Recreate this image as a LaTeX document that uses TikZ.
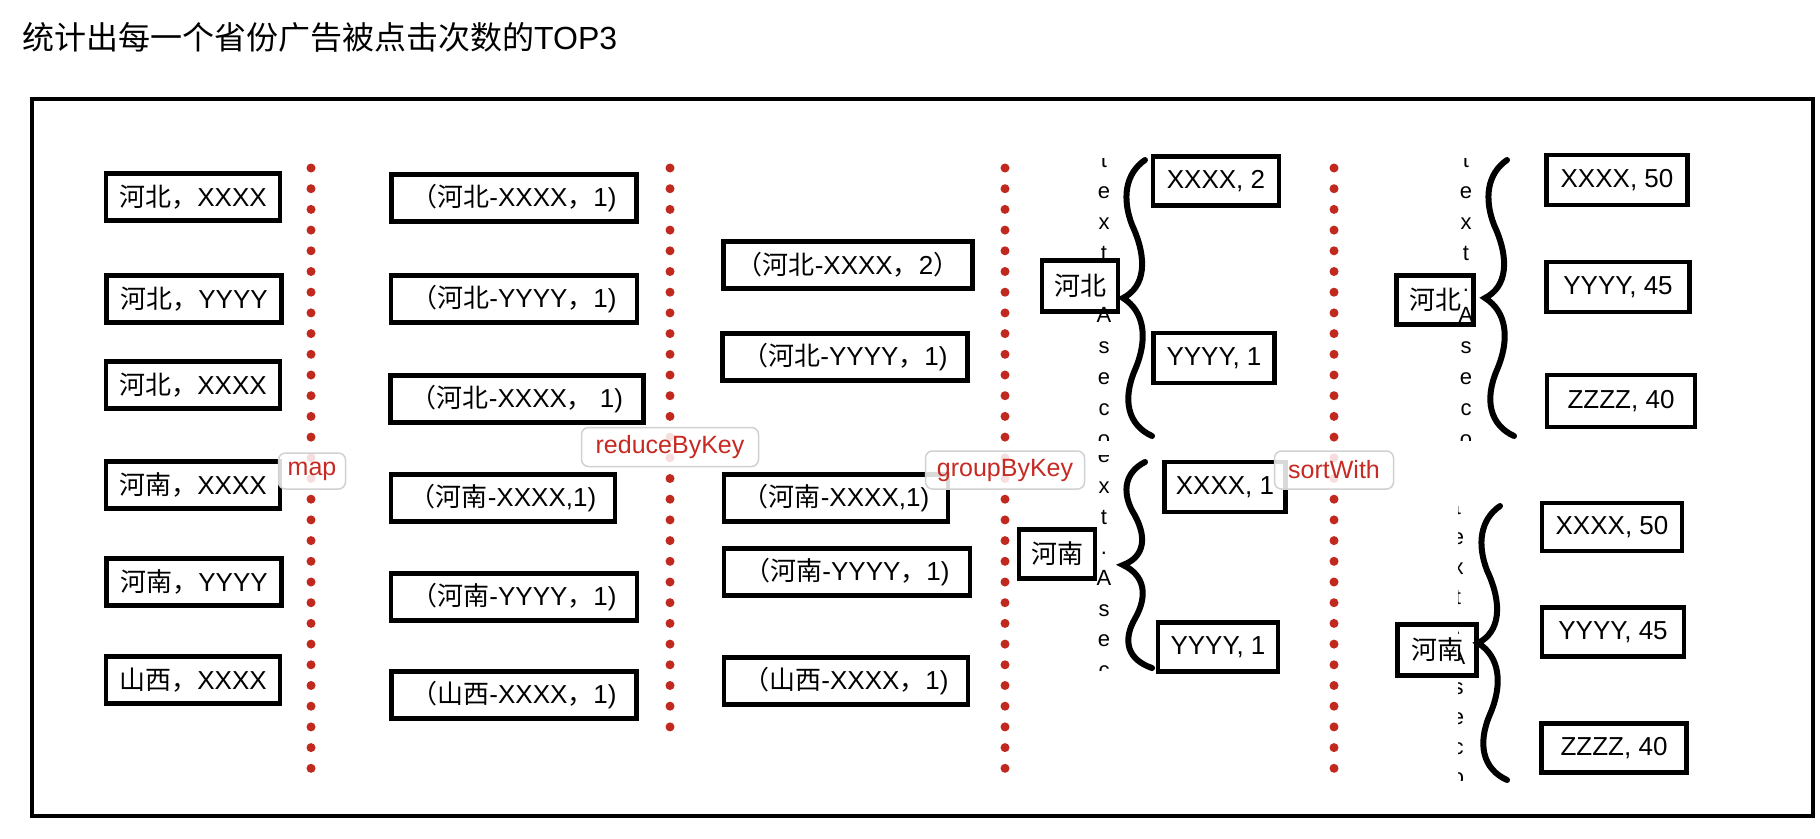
\documentclass[tikz,border=0pt]{standalone}
\usepackage{fontspec}
\setmainfont{Liberation Sans}
\newfontfamily\cjk{Noto Sans CJK SC}
\definecolor{dotred}{HTML}{C1281E}
\definecolor{lblred}{HTML}{C62A22}
\newcommand\sbrace[3]{%
 \draw[brc] ({#1+22},{#2-#3}) .. controls ({#1+2},{#2-0.9*#3}) and ({#1-1},{#2-0.72*#3}) .. ({#1+9},{#2-0.53*#3})
   .. controls ({#1+25},{#2-0.28*#3}) and ({#1+22},{#2-0.08*#3}) .. (#1,#2)
   .. controls ({#1+22},{#2+0.1*#3}) and ({#1+25},{#2+0.3*#3}) .. ({#1+12},{#2+0.52*#3})
   .. controls ({#1-1},{#2+0.74*#3}) and ({#1+5},{#2+0.92*#3}) .. ({#1+29},{#2+#3});}
\begin{document}
\begin{tikzpicture}[x=1pt,y=-1pt,
  box/.style={draw, line width=4.5pt, fill=white, minimum height=47pt, inner sep=0pt, font=\fontsize{26}{30}\selectfont},
  lbl/.style={draw=black!18, line width=1.5pt, rounded corners=7pt, fill=white, fill opacity=0.85, text opacity=1, text=lblred, font=\fontsize{25}{28}\selectfont, inner sep=0pt},
  dotline/.style={draw=dotred, line width=9pt, line cap=round, dash pattern=on 0pt off 20.7pt},
  brc/.style={line width=6pt, line cap=round},
  ltr/.style={font=\fontsize{22}{22}\selectfont, anchor=base, inner sep=0pt}]
\useasboundingbox (0,0) rectangle (1820,838);
\fill[white] (0,0) rectangle (1820,838);
% title
\node[anchor=west, inner sep=0pt, font=\fontsize{32}{35}\selectfont] (title) at (22,37) {{\cjk 统计出每一个省份广告被点击次数的}TOP3};
% frame
\draw[line width=4pt] (32,99) rectangle (1813,816);
% dotted separators
\coordinate (d1t) at (311,168); \coordinate (d1b) at (311,783);
\coordinate (d2t) at (670,168); \coordinate (d2b) at (670,731);
\coordinate (d3t) at (1005,168); \coordinate (d3b) at (1005,783);
\coordinate (d4t) at (1334,168); \coordinate (d4b) at (1334,783);
\draw[dotline] (d1t) -- (d1b);
\draw[dotline] (d2t) -- (d2b);
\draw[dotline] (d3t) -- (d3b);
\draw[dotline] (d4t) -- (d4b);
% column 1
\node[box, minimum width=174pt] (a1) at (193,197) {{\cjk 河北，}XXXX};
\node[box, minimum width=175pt] (a2) at (194,299) {{\cjk 河北，}YYYY};
\node[box, minimum width=174pt] (a3) at (193,385) {{\cjk 河北，}XXXX};
\node[box, minimum width=174pt] (a4) at (193,485) {{\cjk 河南，}XXXX};
\node[box, minimum width=175pt] (a5) at (194,582) {{\cjk 河南，}YYYY};
\node[box, minimum width=174pt] (a6) at (193,680) {{\cjk 山西，}XXXX};
% column 2
\node[box, minimum width=245pt] (b1) at (514,198) {{\cjk （河北}-XXXX{\cjk ，}1)};
\node[box, minimum width=246pt] (b2) at (514,299) {{\cjk （河北}-YYYY{\cjk ，}1)};
\node[box, minimum width=253pt] (b3) at (517,399) {{\cjk （河北}-XXXX{\cjk ，}\hspace{7pt}1)};
\node[box, minimum width=224pt] (b4) at (503,498) {{\cjk （河南}-XXXX,1)};
\node[box, minimum width=246pt] (b5) at (514,597) {{\cjk （河南}-YYYY{\cjk ，}1)};
\node[box, minimum width=245pt] (b6) at (514,695) {{\cjk （山西}-XXXX{\cjk ，}1)};
% column 3
\node[box, minimum width=249pt] (c1) at (848,265) {{\cjk （河北}-XXXX{\cjk ，}2{\cjk ）}};
\node[box, minimum width=245pt] (c2) at (845,357) {{\cjk （河北}-YYYY{\cjk ，}1)};
\node[box, minimum width=224pt] (c3) at (836,498) {{\cjk （河南}-XXXX,1)};
\node[box, minimum width=246pt] (c4) at (847,572) {{\cjk （河南}-YYYY{\cjk ，}1)};
\node[box, minimum width=244pt] (c5) at (846,681) {{\cjk （山西}-XXXX{\cjk ，}1)};
% column 4
\node[box, minimum width=76pt, minimum height=51pt] (k1) at (1080,286) {\cjk 河北};
\node[box, minimum width=126pt, minimum height=49pt] (r1) at (1216,181) {XXXX, 2};
\node[box, minimum width=121pt, minimum height=50pt] (r2) at (1214,358) {YYYY, 1};
\node[box, minimum width=76pt, minimum height=49pt] (k2) at (1057,554) {\cjk 河南};
\node[box, minimum width=121pt, minimum height=50pt] (r3) at (1225,487) {XXXX, 1};
\node[box, minimum width=120pt, minimum height=49pt] (r4) at (1218,647) {YYYY, 1};
% column 5
\node[box, minimum width=77pt, minimum height=49pt] (k3) at (1435,300) {\cjk 河北};
\node[box, minimum width=141pt, minimum height=50pt] (s1) at (1617,180) {XXXX, 50};
\node[box, minimum width=143pt, minimum height=50pt] (s2) at (1618,287) {YYYY, 45};
\node[box, minimum width=148pt, minimum height=52pt] (s3) at (1621,401) {ZZZZ, 40};
\node[box, minimum width=79pt, minimum height=51pt] (k4) at (1437,650) {\cjk 河南};
\node[box, minimum width=140pt, minimum height=48pt] (s4) at (1612,527) {XXXX, 50};
\node[box, minimum width=142pt, minimum height=49pt] (s5) at (1613,632) {YYYY, 45};
\node[box, minimum width=145pt, minimum height=49pt] (s6) at (1614,748) {ZZZZ, 40};
% braces
\sbrace{1123}{298}{138}
\sbrace{1123}{565}{103}
\sbrace{1485}{298}{138}
\sbrace{1478}{643}{137}
% stacked letters
\begin{scope}
\clip (1088,158) rectangle (1122,440);
\foreach \c [count=\i from 0] in {t,e,x,t,.,A,s,e,c,o} \node[ltr] (ga\i) at (1104,{167+31*\i}) {\c};
\end{scope}
\begin{scope}
\clip (1088,455) rectangle (1122,670);
\foreach \c [count=\i from 0] in {t,e,x,t,.,A,s,e,c,o} \node[ltr] (gb\i) at (1104,{432+30.7*\i}) {\c};
\end{scope}
\begin{scope}
\clip (1450,158) rectangle (1484,440);
\foreach \c [count=\i from 0] in {t,e,x,t,.,A,s,e,c,o} \node[ltr] (sa\i) at (1466,{167+31*\i}) {\c};
\end{scope}
\begin{scope}
\clip (1458,506) rectangle (1484,780);
\foreach \c [count=\i from 0] in {t,e,x,t,.,A,s,e,c,o} \node[ltr] (sb\i) at (1458,{514+30*\i}) {\c};
\end{scope}
% labels
\node[lbl, minimum width=67pt, minimum height=36pt] (lmap) at (312,471) {map};
\node[lbl, minimum width=177pt, minimum height=39pt] (lred) at (670,447) {reduceByKey};
\node[lbl, minimum width=159pt, minimum height=38pt] (lgrp) at (1005,470) {groupByKey};
\node[lbl, minimum width=119pt, minimum height=38pt] (lsrt) at (1334,470) {sortWith};
\end{tikzpicture}
\end{document}
